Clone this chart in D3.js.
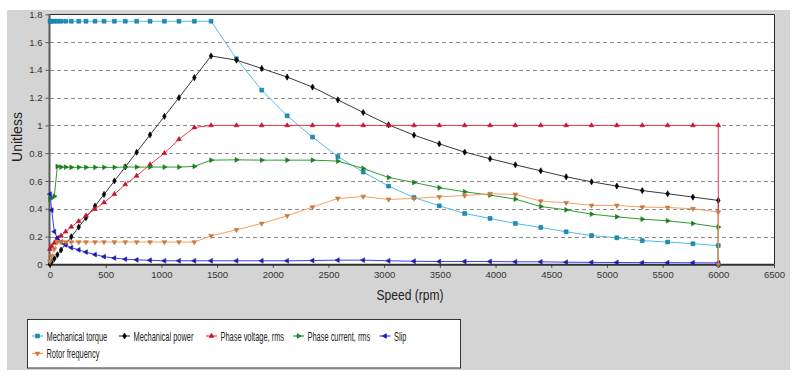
<!DOCTYPE html>
<html>
<head>
<meta charset="utf-8">
<script src="https://cdn.jsdelivr.net/npm/d3@7"></script>
<style>
  html, body { margin: 0; padding: 0; background: #ffffff; }
  svg { display: block; }
  text { font-family: "Liberation Sans", Arial, sans-serif; }
</style>
</head>
<body>
<svg id="chart" width="799" height="379"></svg>
<script>
// ---------------- data ----------------
const speed = [0, 15, 39, 66, 99, 141, 191, 258, 323, 404, 485, 578, 676, 778, 898, 1027, 1158, 1296, 1446,
  1674, 1901, 2129, 2357, 2584, 2812, 3040, 3268, 3495, 3723, 3951, 4178, 4406, 4634, 4862, 5089, 5317, 5545, 5772, 6000,
  6000];

const mechanicalTorque = [1.75, 1.75, 1.75, 1.75, 1.75, 1.75, 1.75, 1.75, 1.75, 1.75, 1.75, 1.75, 1.75, 1.75, 1.75, 1.75, 1.75, 1.75, 1.75,
  1.48, 1.254, 1.069, 0.916, 0.776, 0.664, 0.563, 0.481, 0.421, 0.366, 0.33, 0.294, 0.265, 0.234, 0.207, 0.191, 0.171, 0.16, 0.148, 0.135,
  0];

const mechanicalPower = [0, 0.016, 0.04, 0.068, 0.103, 0.146, 0.198, 0.268, 0.335, 0.419, 0.503, 0.6, 0.701, 0.807, 0.932, 1.065, 1.2, 1.344, 1.5,
  1.47, 1.41, 1.348, 1.276, 1.184, 1.093, 1.004, 0.93, 0.867, 0.808, 0.76, 0.716, 0.673, 0.63, 0.594, 0.563, 0.531, 0.508, 0.484, 0.46,
  0];

const phaseVoltage = [0.11, 0.13, 0.155, 0.185, 0.205, 0.235, 0.27, 0.31, 0.35, 0.397, 0.445, 0.505, 0.575, 0.637, 0.718, 0.8, 0.9, 0.985, 1.0,
  1.0, 1.0, 1.0, 1.0, 1.0, 1.0, 1.0, 1.0, 1.0, 1.0, 1.0, 1.0, 1.0, 1.0, 1.0, 1.0, 1.0, 1.0, 1.0, 1.0,
  0];

const phaseCurrent = [0.47, 0.48, 0.49, 0.705, 0.70, 0.70, 0.698, 0.698, 0.698, 0.698, 0.698, 0.698, 0.70, 0.70, 0.70, 0.70, 0.70, 0.705, 0.75,
  0.752, 0.75, 0.75, 0.75, 0.743, 0.69, 0.625, 0.589, 0.551, 0.522, 0.498, 0.469, 0.416, 0.392, 0.361, 0.342, 0.325, 0.313, 0.294, 0.268,
  0];

const slip = [0.505, 0.39, 0.235, 0.19, 0.16, 0.14, 0.12, 0.104, 0.088, 0.07, 0.055, 0.045, 0.037, 0.032, 0.029, 0.025, 0.025, 0.025, 0.025,
  0.025, 0.025, 0.025, 0.027, 0.03, 0.03, 0.025, 0.022, 0.02, 0.02, 0.02, 0.018, 0.018, 0.015, 0.014, 0.013, 0.012, 0.012, 0.011, 0.01,
  0];

const rotorFrequency = [0.02, 0.06, 0.11, 0.16, 0.16, 0.16, 0.16, 0.16, 0.16, 0.16, 0.16, 0.16, 0.16, 0.16, 0.16, 0.16, 0.16, 0.16, 0.205,
  0.248, 0.294, 0.349, 0.412, 0.474, 0.488, 0.467, 0.474, 0.486, 0.495, 0.508, 0.503, 0.455, 0.443, 0.424, 0.424, 0.412, 0.409, 0.4, 0.376,
  0];

const seriesNames = ["Mechanical torque", "Mechanical power", "Phase voltage, rms", "Phase current, rms", "Slip", "Rotor frequency"];
const seriesValues = [mechanicalTorque, mechanicalPower, phaseVoltage, phaseCurrent, slip, rotorFrequency];

const xTickValues = [0, 500, 1000, 1500, 2000, 2500, 3000, 3500, 4000, 4500, 5000, 5500, 6000, 6500];
const xTickLabels = ["0", "500", "1000", "1500", "2000", "2500", "3000", "3500", "4000", "4500", "5000", "5500", "6000", "6500"];
const yTickValues = [0, 0.2, 0.4, 0.6, 0.8, 1, 1.2, 1.4, 1.6, 1.8];
const yTickLabels = ["0", "0.2", "0.4", "0.6", "0.8", "1", "1.2", "1.4", "1.6", "1.8"];

const xTitle = "Speed (rpm)";
const yTitle = "Unitless";

// ---------------- styles ----------------
const styles = [
  { line: "#4fbfe2", fill: "#1c8fbd", stroke: "#13729a", symbol: d3.symbolSquare, size: 15, rot: 0 },
  { line: "#3a3a3a", fill: "#000000", stroke: "#000000", symbol: d3.symbolDiamond, size: 11, rot: 0 },
  { line: "#ee3a44", fill: "#c4122c", stroke: "#c4122c", symbol: d3.symbolTriangle, size: 10, rot: 0 },
  { line: "#2f9e2f", fill: "#1e7d1e", stroke: "#1e7d1e", symbol: d3.symbolTriangle, size: 10, rot: 90 },
  { line: "#3b3bf5", fill: "#1c1caa", stroke: "#1c1caa", symbol: d3.symbolTriangle, size: 10, rot: -90 },
  { line: "#f5a263", fill: "#c97a3c", stroke: "#c97a3c", symbol: d3.symbolTriangle, size: 10, rot: 180 }
];

// ---------------- layout ----------------
const svg = d3.select("#chart");
const W = 799, H = 379;
const plot = { left: 50, right: 774, top: 14.3, bottom: 264.3 };

svg.append("rect").attr("x", 0).attr("y", 0).attr("width", W).attr("height", H).attr("fill", "#ffffff");
svg.append("rect").attr("x", 7).attr("y", 10).attr("width", 783).attr("height", 360).attr("fill", "#d4d4d4");
svg.append("rect").attr("x", plot.left).attr("y", plot.top)
  .attr("width", plot.right - plot.left).attr("height", plot.bottom - plot.top).attr("fill", "#ffffff");

const x = d3.scaleLinear().domain([0, 6500]).range([plot.left, plot.right]);
const y = d3.scaleLinear().domain([0, 1.8]).range([plot.bottom, plot.top]);

// grid
svg.append("g").selectAll("line").data(yTickValues.filter(v => v > 0 && v < 1.8)).join("line")
  .attr("x1", plot.left).attr("x2", plot.right)
  .attr("y1", d => Math.round(y(d)) + 0.5).attr("y2", d => Math.round(y(d)) + 0.5)
  .attr("stroke", "#8c8c8c").attr("stroke-width", 1).attr("stroke-dasharray", "4,3");

// top & right border
svg.append("path")
  .attr("d", `M${plot.left},${Math.round(plot.top) + 0.5}H${plot.right + 0.5}V${plot.bottom}`)
  .attr("fill", "none").attr("stroke", "#2a2a2a").attr("stroke-width", 1);

// axes
const yAxis = d3.axisLeft(y).tickValues(yTickValues).tickFormat((d, i) => yTickLabels[i])
  .tickSize(4).tickSizeOuter(0).tickPadding(3);
const gy = svg.append("g").attr("transform", `translate(${plot.left - 0.5},0)`).call(yAxis);
gy.select(".domain").remove();
gy.selectAll("line").attr("stroke", "#555");
gy.selectAll("text").attr("font-size", 9.5).attr("fill", "#333").attr("font-family", "Liberation Sans, Arial, sans-serif");

const xAxis = d3.axisBottom(x).tickValues(xTickValues).tickFormat((d, i) => xTickLabels[i])
  .tickSize(3).tickSizeOuter(0).tickPadding(3);
const gx = svg.append("g").attr("transform", `translate(0,${plot.bottom + 0.5})`).call(xAxis);
gx.select(".domain").remove();
gx.selectAll("line").attr("stroke", "#444");
gx.selectAll("text").attr("font-size", 9.5).attr("fill", "#333").attr("font-family", "Liberation Sans, Arial, sans-serif");

// thick left & bottom axis lines
svg.append("line").attr("x1", plot.left - 0.5).attr("x2", plot.left - 0.5)
  .attr("y1", plot.top).attr("y2", plot.bottom + 1.5).attr("stroke", "#5a5a5a").attr("stroke-width", 2);
svg.append("line").attr("x1", plot.left - 1.5).attr("x2", plot.right + 0.5)
  .attr("y1", plot.bottom + 0.5).attr("y2", plot.bottom + 0.5).attr("stroke", "#333").attr("stroke-width", 2);

// series
const lineGen = d3.line().x(d => x(d[0])).y(d => y(d[1]));
seriesValues.forEach((vals, si) => {
  const st = styles[si];
  const pts = speed.map((s, i) => [s, vals[i]]);
  const g = svg.append("g");
  g.append("path").attr("d", lineGen(pts)).attr("fill", "none")
    .attr("stroke", st.line).attr("stroke-width", 1);
  const sym = d3.symbol().type(st.symbol).size(st.size);
  g.selectAll("path.m").data(pts).join("path").attr("class", "m")
    .attr("d", sym)
    .attr("transform", d => `translate(${x(d[0])},${y(d[1])}) rotate(${st.rot})`)
    .attr("fill", st.fill).attr("stroke", st.stroke).attr("stroke-width", 0.6);
});

// axis titles
svg.append("g").attr("transform", `translate(410,300) scale(0.86,1)`)
  .append("text").attr("text-anchor", "middle").attr("font-size", 14).attr("fill", "#222").text(xTitle);
svg.append("text").attr("transform", `translate(22,137) rotate(-90)`)
  .attr("text-anchor", "middle").attr("font-size", 14).attr("fill", "#222").text(yTitle);

// legend
svg.append("rect").attr("x", 27.5).attr("y", 319.5).attr("width", 433).attr("height", 48.5)
  .attr("fill", "#ffffff").attr("stroke", "#333").attr("stroke-width", 1);
const legendPos = [[32, 336], [119, 336], [206, 336], [293, 336], [379.5, 336], [32, 353.5]];
seriesNames.forEach((name, si) => {
  const st = styles[si];
  const [lx, ly] = legendPos[si];
  const g = svg.append("g").attr("transform", `translate(${lx},${ly})`);
  g.append("line").attr("x1", 0).attr("x2", 11).attr("y1", 0).attr("y2", 0)
    .attr("stroke", st.line).attr("stroke-width", 1.2);
  g.append("path").attr("d", d3.symbol().type(st.symbol).size(st.size))
    .attr("transform", `translate(5.5,0) rotate(${st.rot})`)
    .attr("fill", st.fill).attr("stroke", st.stroke).attr("stroke-width", 0.6);
  g.append("g").attr("transform", `translate(14.5,4.5) scale(0.62,1)`)
    .append("text").attr("font-size", 12).attr("fill", "#222").text(name);
});
</script>
</body>
</html>
